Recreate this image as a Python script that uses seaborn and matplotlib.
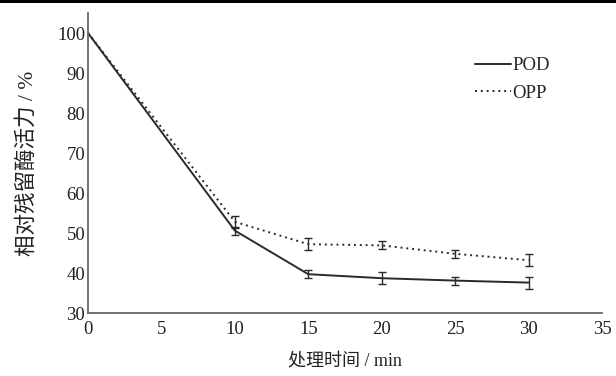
import numpy as np
import pandas as pd
import matplotlib
matplotlib.use("Agg")
import matplotlib.pyplot as plt
import seaborn as sns
from matplotlib.lines import Line2D

time_min = [0, 10, 15, 20, 25, 30]
pod_values = [100, 50.6, 39.7, 38.7, 38.1, 37.6]
pod_err = [0, 1.0, 1.0, 1.5, 1.0, 1.5]
opp_values = [100, 52.8, 47.2, 46.9, 44.8, 43.2]
opp_err = [0, 1.5, 1.5, 1.0, 1.0, 1.5]
x_ticks = [0, 5, 10, 15, 20, 25, 30, 35]
y_ticks = [30, 40, 50, 60, 70, 80, 90, 100]
series_names = ["POD", "OPP"]

sns.set_style("white")
plt.rcParams['font.family'] = ['Liberation Serif', 'Noto Sans CJK SC']

df = pd.DataFrame({
    "time": time_min * 2,
    "value": pod_values + opp_values,
    "err": pod_err + opp_err,
    "series": [series_names[0]] * len(time_min) + [series_names[1]] * len(time_min),
})

fig = plt.figure(figsize=(6.16, 3.76), dpi=100)
ax = fig.add_axes([88 / 616, 63 / 376, 514 / 616, 300 / 376])

line_color = "#2a2a2a"
sns.lineplot(data=df, x="time", y="value", style="series",
             dashes={"POD": "", "OPP": (1, 2)}, color=line_color,
             linewidth=1.4, ax=ax, legend=False)

for name in series_names:
    sub = df[df["series"] == name]
    sub = sub[sub["err"] > 0]
    ax.errorbar(sub["time"], sub["value"], yerr=sub["err"], fmt="none",
                ecolor=line_color, elinewidth=1.0, capsize=3, capthick=1.0)

ax.set_xlim(0, 35)
ax.set_ylim(30, 105)
ax.set_xticks(x_ticks)
ax.set_yticks(y_ticks)
ax.tick_params(direction="in", length=4, width=1, color="#666666",
               labelsize=13.5, labelcolor="#222222", pad=2)
ax.tick_params(axis="x", pad=6)
for s in ["top", "right"]:
    ax.spines[s].set_visible(False)
for s in ["left", "bottom"]:
    ax.spines[s].set_color("#666666")
    ax.spines[s].set_linewidth(1.3)

ax.set_xlabel("处理时间 / min", fontsize=13, color="#222222", labelpad=11)
ax.set_ylabel("相对残留酶活力 / %", fontsize=15.5, color="#222222", labelpad=14)

handles = [Line2D([], [], color=line_color, linewidth=1.4, linestyle="-"),
           Line2D([], [], color=line_color, linewidth=1.4, linestyle=(0, (1, 2)))]
ax.legend(handles, series_names, loc="upper left",
          bbox_to_anchor=(475 / 616, 1 - 57 / 376), bbox_transform=fig.transFigure,
          frameon=False, fontsize=13.5, handlelength=1.9, handletextpad=0.1,
          labelspacing=0.55, borderpad=0, borderaxespad=0)

fig.add_artist(plt.Rectangle((0, 1 - 3 / 376), 1, 3 / 376, transform=fig.transFigure,
                             color="black", lw=0))

fig.savefig("out.png", dpi=100)
